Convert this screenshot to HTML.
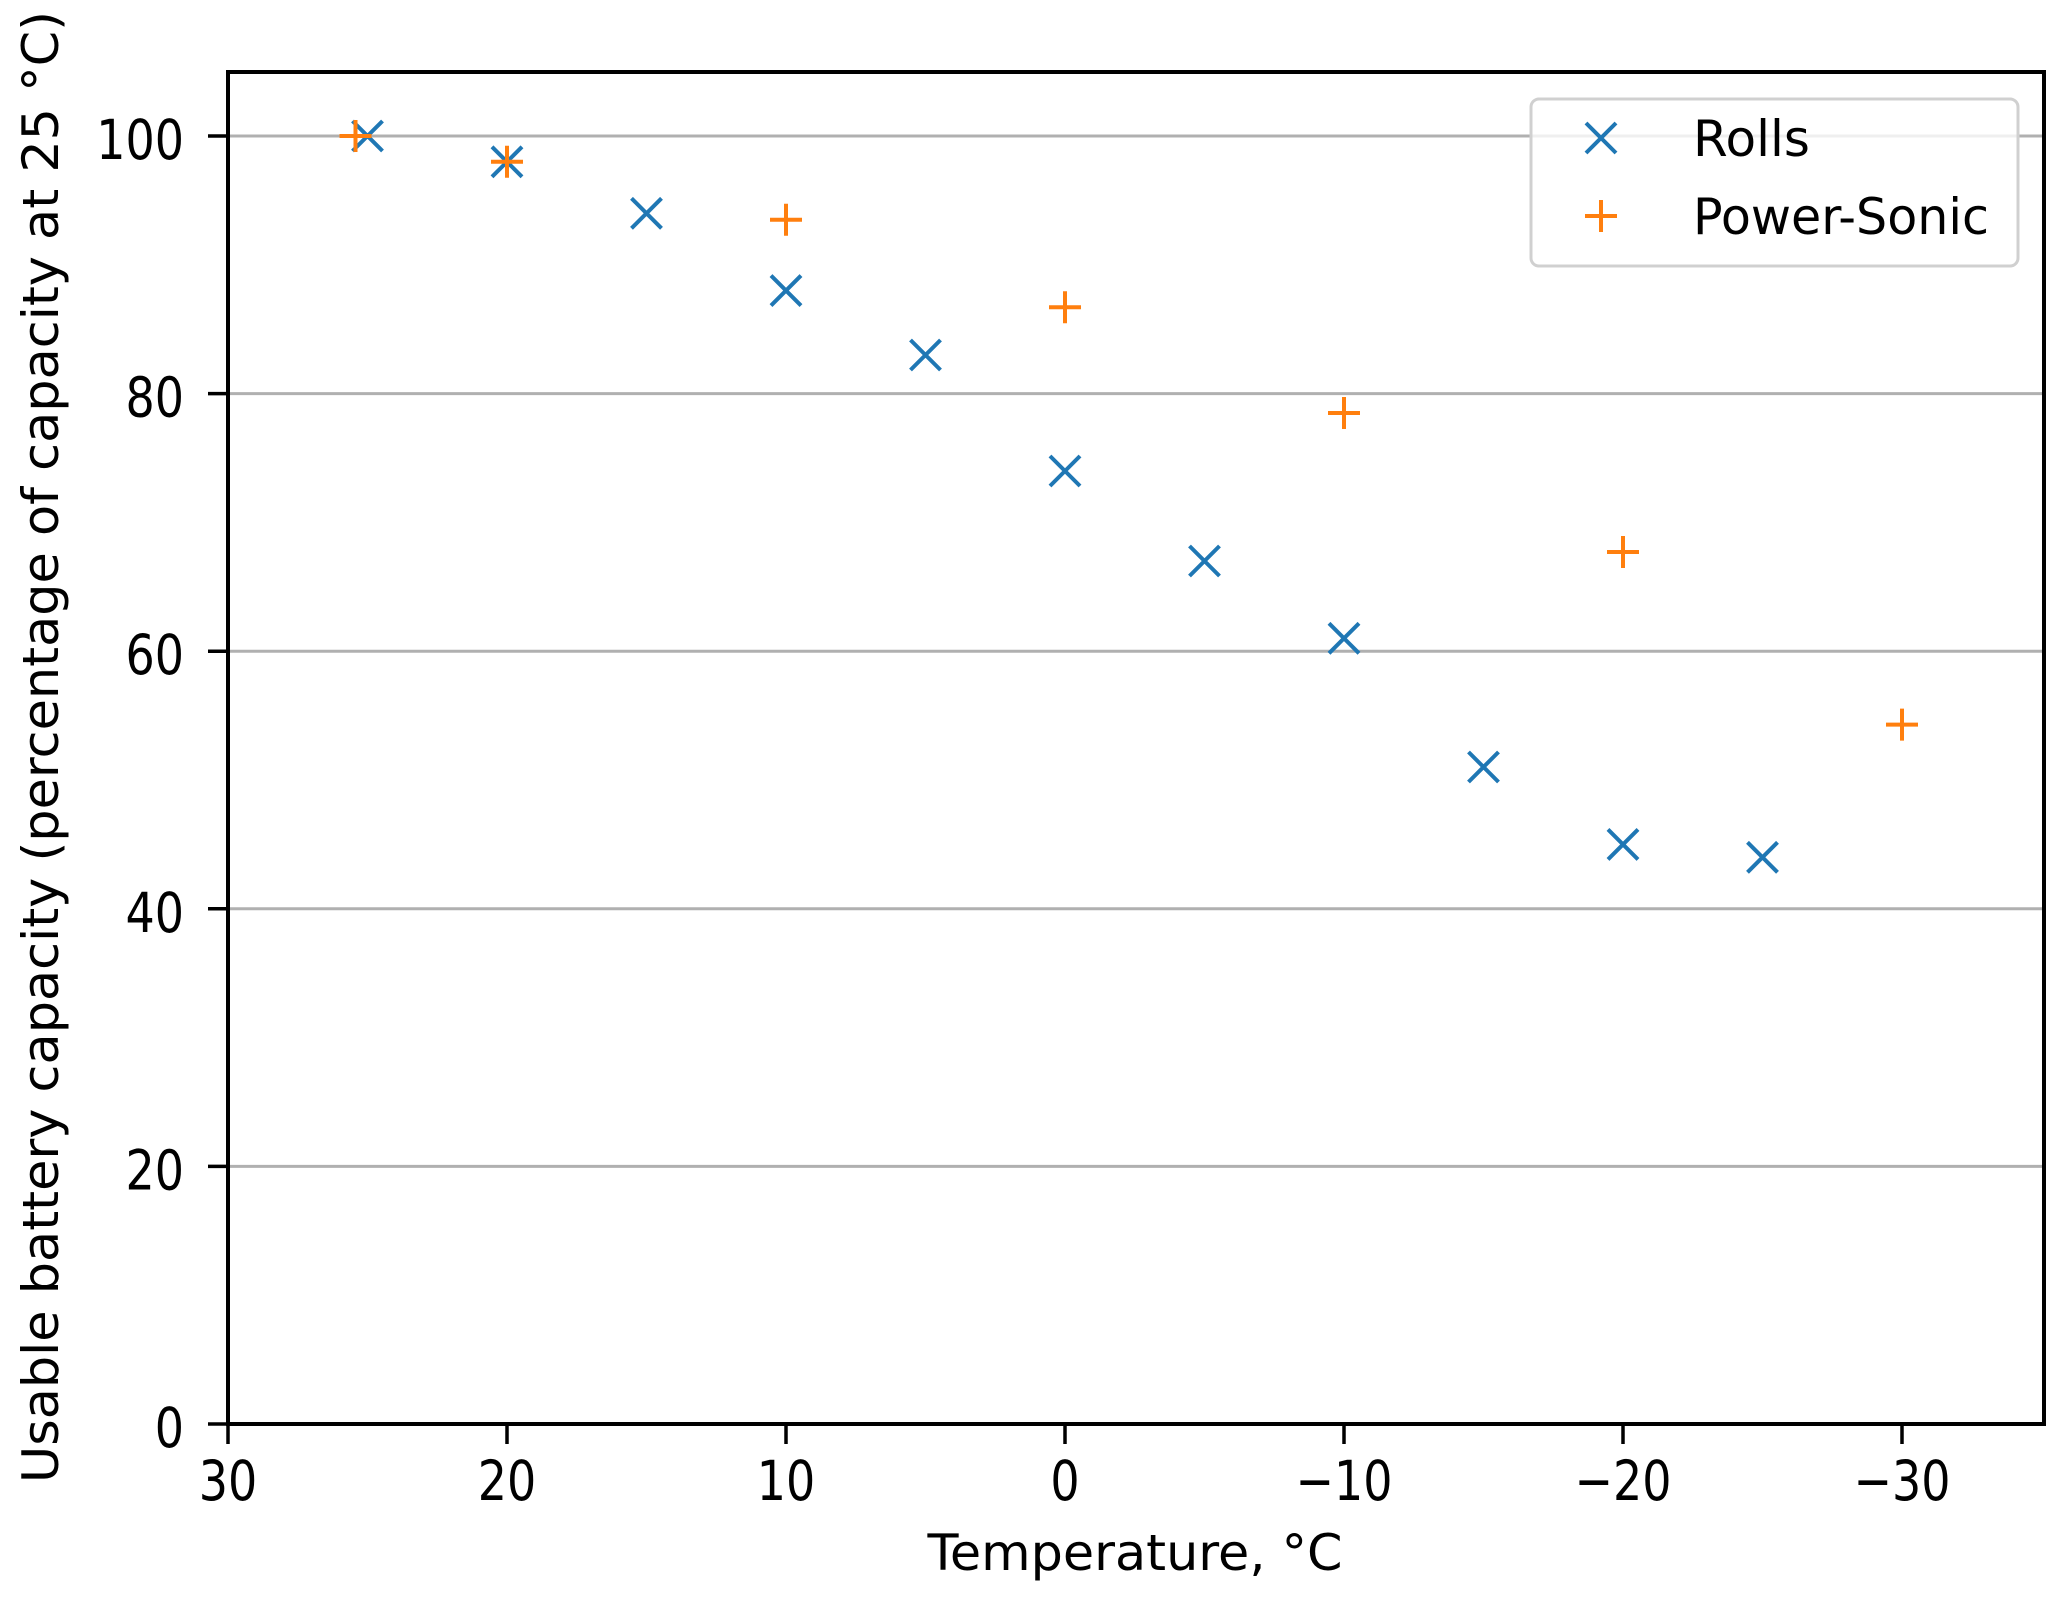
<!DOCTYPE html>
<html><head><meta charset="utf-8"><style>html,body{margin:0;padding:0;background:#fff}svg{display:block}</style></head>
<body>
<svg width="2067" height="1599" viewBox="0 0 2067 1599" xmlns="http://www.w3.org/2000/svg" font-family="DejaVu Sans, Liberation Sans, sans-serif">
<defs>
<g id="xm"><path d="M-15,-15L15,15M-15,15L15,-15" stroke="#1f77b4" stroke-width="4"/></g>
<g id="pm"><path d="M-16,0H16M0,-16V16" stroke="#ff7f0e" stroke-width="4"/></g>
</defs>
<g stroke="#b0b0b0" stroke-width="3">
<line x1="228" x2="2044" y1="1166.4" y2="1166.4"/>
<line x1="228" x2="2044" y1="908.8" y2="908.8"/>
<line x1="228" x2="2044" y1="651.2" y2="651.2"/>
<line x1="228" x2="2044" y1="393.6" y2="393.6"/>
<line x1="228" x2="2044" y1="136" y2="136"/>
</g>
<g id="pts">
<use href="#xm" x="367.5" y="136"/>
<use href="#xm" x="507" y="161.8"/>
<use href="#xm" x="646.5" y="213.3"/>
<use href="#xm" x="786" y="290.6"/>
<use href="#xm" x="925.5" y="355"/>
<use href="#xm" x="1065" y="471"/>
<use href="#xm" x="1204.5" y="561"/>
<use href="#xm" x="1344" y="638.3"/>
<use href="#xm" x="1483.5" y="767"/>
<use href="#xm" x="1623" y="844.4"/>
<use href="#xm" x="1762.5" y="857.3"/>
<use href="#pm" x="355.5" y="136"/>
<use href="#pm" x="507" y="161.8"/>
<use href="#pm" x="786" y="219.7"/>
<use href="#pm" x="1065" y="307.3"/>
<use href="#pm" x="1344" y="413"/>
<use href="#pm" x="1623" y="552"/>
<use href="#pm" x="1902" y="724.6"/>
</g>
<rect x="228" y="72" width="1816" height="1352" fill="none" stroke="#000" stroke-width="4"/>
<g stroke="#000" stroke-width="3.5">
<line x1="228" x2="228" y1="1424" y2="1444"/>
<line x1="507" x2="507" y1="1424" y2="1444"/>
<line x1="786" x2="786" y1="1424" y2="1444"/>
<line x1="1065" x2="1065" y1="1424" y2="1444"/>
<line x1="1344" x2="1344" y1="1424" y2="1444"/>
<line x1="1623" x2="1623" y1="1424" y2="1444"/>
<line x1="1902" x2="1902" y1="1424" y2="1444"/>
<line x1="208" x2="228" y1="1424" y2="1424"/>
<line x1="208" x2="228" y1="1166.4" y2="1166.4"/>
<line x1="208" x2="228" y1="908.8" y2="908.8"/>
<line x1="208" x2="228" y1="651.2" y2="651.2"/>
<line x1="208" x2="228" y1="393.6" y2="393.6"/>
<line x1="208" x2="228" y1="136" y2="136"/>
</g>
<g font-size="46" fill="#000" text-anchor="middle">
<g transform="translate(0,1500) scale(1,1.2)">
<text x="228" y="0">30</text><text x="507" y="0">20</text><text x="786" y="0">10</text><text x="1065" y="0">0</text>
<text x="1344" y="0">−10</text><text x="1623" y="0">−20</text><text x="1902" y="0">−30</text>
</g>
</g>
<g font-size="46" fill="#000" text-anchor="end">
<text x="184" y="0" transform="translate(0,1447) scale(1,1.2)">0</text>
<text x="184" y="0" transform="translate(0,1189.4) scale(1,1.2)">20</text>
<text x="184" y="0" transform="translate(0,931.8) scale(1,1.2)">40</text>
<text x="184" y="0" transform="translate(0,674.2) scale(1,1.2)">60</text>
<text x="184" y="0" transform="translate(0,416.6) scale(1,1.2)">80</text>
<text x="184" y="0" transform="translate(0,159) scale(1,1.2)">100</text>
</g>
<text x="1135" y="1570" font-size="50" text-anchor="middle" textLength="415" lengthAdjust="spacingAndGlyphs">Temperature, °C</text>
<text transform="translate(58,747) rotate(-90)" x="0" y="0" font-size="50" text-anchor="middle" textLength="1472" lengthAdjust="spacingAndGlyphs">Usable battery capacity (percentage of capacity at 25 °C)</text>
<rect x="1531" y="99" width="487" height="167" rx="8" fill="#fff" fill-opacity="0.8" stroke="#d0d0d0" stroke-width="3"/>
<use href="#xm" x="1601" y="138"/>
<use href="#pm" x="1601" y="216"/>
<g font-size="50" fill="#000">
<text x="1693" y="156">Rolls</text>
<text x="1693" y="234" textLength="296" lengthAdjust="spacingAndGlyphs">Power-Sonic</text>
</g>
</svg>
</body></html>
